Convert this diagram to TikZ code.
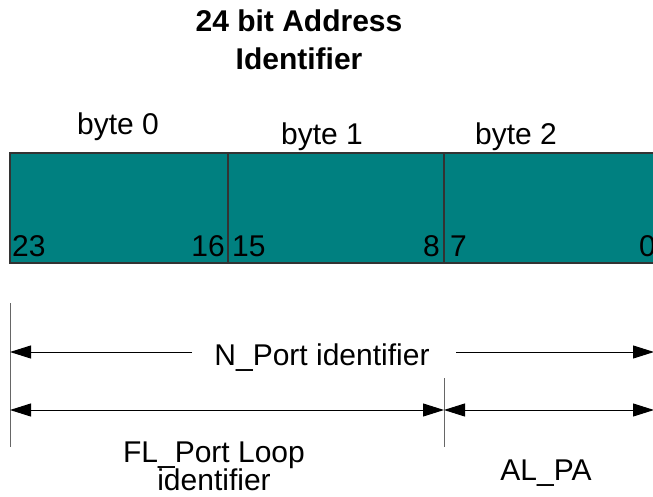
\documentclass[tikz,border=0pt]{standalone}
\usepackage{fontspec}
\setmainfont{Liberation Sans}
\usetikzlibrary{arrows.meta}
\definecolor{teal1}{HTML}{008080}
\begin{document}
\begin{tikzpicture}[x=1pt,y=-1pt,
  cell/.style={draw=black!80,line width=1.2pt,fill=teal1,minimum height=110pt,inner sep=0pt,outer sep=0pt,anchor=north west},
  lbl/.style={font=\fontsize{30}{32}\selectfont,inner sep=0pt,anchor=base},
  num/.style={font=\fontsize{30}{30}\selectfont,inner sep=0pt},
  ttl/.style={font=\bfseries\fontsize{30}{38}\selectfont,inner sep=0pt,anchor=base},
  tick/.style={draw=black!60,line width=1pt},
  dim/.style={draw=black,line width=1pt,-{Triangle[length=21pt,width=13pt]}},
  ddim/.style={draw=black,line width=1pt,{Triangle[length=21pt,width=13pt]}-{Triangle[length=21pt,width=13pt]}}]
\useasboundingbox (0,0) rectangle (653,497);
\node[ttl] (title1) at (299,32) {24 bit Address};
\node[ttl] (title2) at (299,70) {Identifier};
\node[cell,minimum width=218pt] (b0) at (10,153) {};
\node[cell,minimum width=216pt] (b1) at (228,153) {};
\node[cell,minimum width=230pt] (b2) at (444,153) {};
\node[lbl] (t0) at (118,135) {byte 0};
\node[lbl] (t1) at (322,145) {byte 1};
\node[lbl] (t2) at (516,145) {byte 2};
\node[num,anchor=base west] (n23) at (12,256) {23};
\node[num,anchor=base east] (n16) at (225,256) {16};
\node[num,anchor=base west] (n15) at (232,256) {15};
\node[num,anchor=base east] (n8) at (440,256) {8};
\node[num,anchor=base west] (n7) at (450,256) {7};
\node[num,anchor=base west] (n0) at (639,256) {0};
\coordinate (lt) at (10,303);
\coordinate (lb) at (10,447);
\coordinate (mt) at (444,378);
\coordinate (mb) at (444,447);
\draw[tick] (lt) -- (lb);
\draw[tick] (mt) -- (mb);
\node[lbl] (np) at (322,365) {N\_Port identifier};
\coordinate (npl) at (10,352);
\coordinate (npr) at (654,352);
\coordinate (npa) at (192,352);
\coordinate (npb) at (456,352);
\draw[dim] (npa) -- (npl);
\draw[dim] (npb) -- (npr);
\coordinate (fl) at (10,410);
\coordinate (fm) at (444,410);
\coordinate (fr) at (654,410);
\draw[ddim] (fl) -- (fm);
\draw[ddim] (fm) -- (fr);
\node[lbl] (flp1) at (214,462) {FL\_Port Loop};
\node[lbl] (flp2) at (214,490) {identifier};
\node[lbl] (alpa) at (546,480) {AL\_PA};
\end{tikzpicture}
\end{document}
